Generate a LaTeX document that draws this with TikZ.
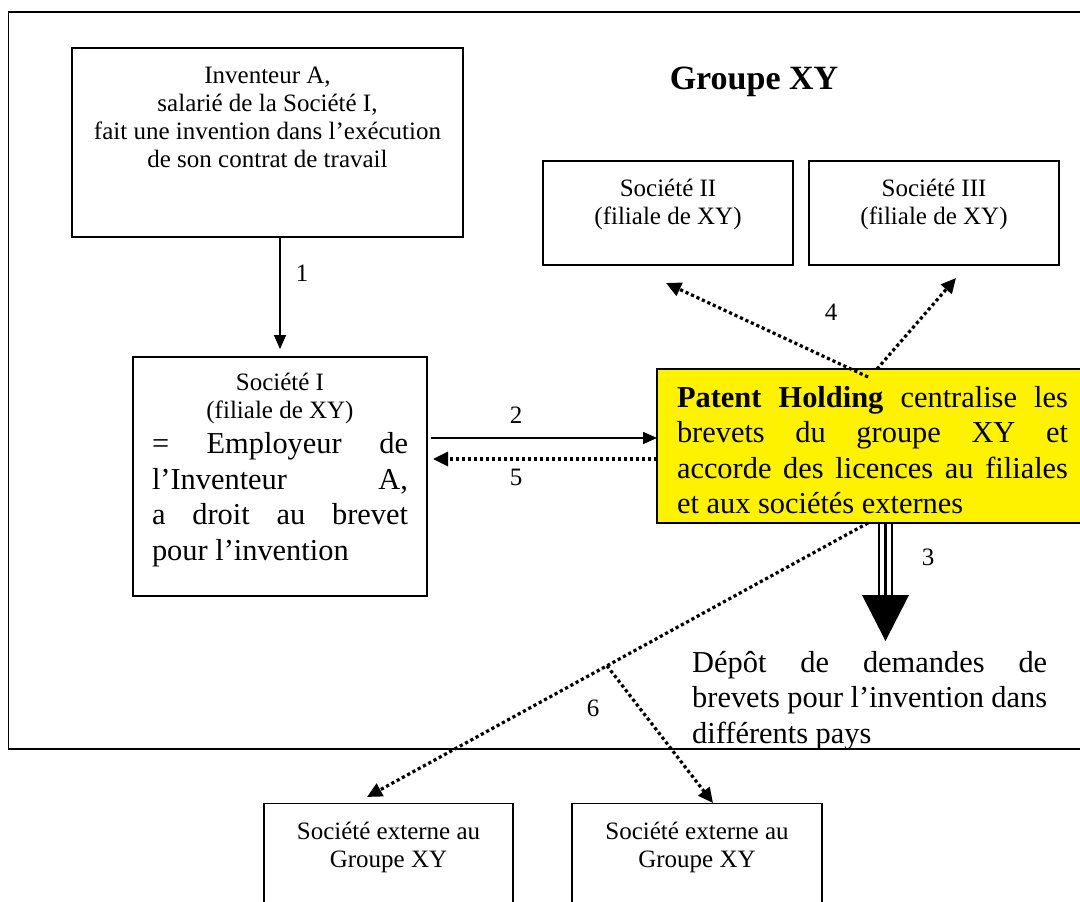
\documentclass[tikz,border=0pt]{standalone}
\usepackage{fontspec}
\setmainfont{Liberation Serif}
\usetikzlibrary{arrows.meta,calc}
\newcommand{\fsm}{\fontsize{25pt}{28.3pt}\selectfont}
\newcommand{\flg}{\fontsize{30.4pt}{35.5pt}\selectfont}
\newcommand{\fttl}{\fontsize{34pt}{40pt}\selectfont}
\newcommand{\fixbox}[3]{\begin{minipage}[c][#2][t]{#1}#3\end{minipage}}
\hbadness=10000 \vbadness=10000 \hfuzz=20pt \vfuzz=20pt
\tikzset{
  boxst/.style={draw=black, line width=1.6pt, inner sep=0pt, outer sep=0pt, anchor=north west, fill=white},
  phst/.style={boxst, fill=yellow},
  lbl/.style={inner sep=0pt, font=\fsm},
  solidarr/.style={line width=1.5pt, -{Triangle[length=14pt,width=12pt]}},
  dotarr/.style={line width=3.2pt, dash pattern=on 3.2pt off 2.8pt, -{Triangle[length=15pt,width=14pt]}},
  tripleln/.style={line width=2.2pt}
}
\begin{document}
\begin{tikzpicture}[x=1pt,y=-1pt]
\path[use as bounding box] (0,0) rectangle (1080,902);
\clip (0,0) rectangle (1080,902);
\fill[white] (0,0) rectangle (1080,902);

% group frame
\node[draw=black, line width=1.6pt, inner sep=0pt, outer sep=0pt, anchor=north west,
      minimum width=1090pt, minimum height=737pt] (grp) at (8.5,12) {};

% title
\node[inner sep=0pt] (ttl) at (754,82) {\fttl\textbf{Groupe XY}};

% boxes
\node[boxst] (inv) at (72,48) {\fixbox{391pt}{189pt}{\vspace*{15.2pt}\fsm\centering\leavevmode\strut Inventeur A,\\ salarié de la Société I,\\ fait une invention dans l’exécution\\ de son contrat de travail\par}};

\node[boxst] (s2) at (543,161) {\fixbox{250pt}{104pt}{\vspace*{15.2pt}\fsm\centering\leavevmode\strut Société II\\ (filiale de XY)\par}};

\node[boxst] (s3) at (809,161) {\fixbox{250pt}{104pt}{\vspace*{15.2pt}\fsm\centering\leavevmode\strut Société III\\ (filiale de XY)\par}};

\node[boxst] (s1) at (133,357) {\fixbox{294pt}{239pt}{\vspace*{13.2pt}{\fsm\centering\leavevmode\strut Société I\\ (filiale de XY)\par}{\flg\leftskip=19pt\rightskip=19pt\parfillskip=0pt plus 1fil\relax = Employeur de\linebreak l’Inventeur A,\linebreak a droit au brevet\linebreak pour l’invention\par}}};

\node[phst] (ph) at (657,369) {\fixbox{431pt}{154pt}{\vspace*{13.15pt}{\flg\leftskip=20pt\rightskip=20pt\parfillskip=0pt plus 1fil\relax\leavevmode\strut\textbf{Patent Holding} centralise les\linebreak brevets du groupe XY et\linebreak accorde des licences au filiales\linebreak et aux sociétés externes\par}}};

\node[inner sep=0pt, anchor=north west] (dep) at (692,647.15) {\begin{minipage}[t]{355pt}\flg\leavevmode\strut Dépôt de demandes de\linebreak brevets pour l’invention dans\linebreak différents pays\end{minipage}};

\node[boxst] (e1) at (264,803.5) {\fixbox{249pt}{150pt}{\vspace*{15.7pt}\fsm\centering\leavevmode\strut Société externe au\\ Groupe XY\par}};

\node[boxst] (e2) at (572,803.5) {\fixbox{250pt}{150pt}{\vspace*{15.7pt}\fsm\centering\leavevmode\strut Société externe au\\ Groupe XY\par}};

% helper coordinates
\coordinate (y2) at (0,438);
\coordinate (y5) at (0,459);
\coordinate (p4a) at (868,377);
\coordinate (p4b) at (877,369);
\coordinate (t4a) at (666,283);
\coordinate (t4b) at (956,278);
\coordinate (a3tip) at (885.5,641);
\coordinate (a3base) at (885.5,595);
\coordinate (p6) at (868,523);
\coordinate (t6a) at (367,797);
\coordinate (t6b) at (713,803);
\coordinate (b6) at ($(p6)!0.521!(t6a)$);

% arrow 1
\draw[solidarr, shorten >=8pt] (inv.south -| s1.north) -- (s1.north);
% arrow 2
\draw[solidarr, shorten <=4pt] (s1.east |- y2) -- (ph.west |- y2);
% arrow 5
\draw[dotarr, shorten >=6pt] (ph.west |- y5) -- (s1.east |- y5);
% arrows 4
\draw[dotarr] (p4a) -- (t4a);
\draw[dotarr] (p4b) -- (t4b);
% arrow 3 (triple shaft + big head)
\draw[tripleln] ([xshift=-6.5pt]ph.south -| a3tip) -- ([xshift=-6.5pt]a3base);
\draw[tripleln] (ph.south -| a3tip) -- (a3base);
\draw[tripleln] ([xshift=6.5pt]ph.south -| a3tip) -- ([xshift=6.5pt]a3base);
\fill[black] (a3tip) -- ([xshift=-23.5pt]a3base) -- ([xshift=23.5pt]a3base) -- cycle;
% arrows 6
\draw[dotarr] (p6) -- (t6a);
\draw[dotarr] (b6) -- (t6b);

% labels
\node[lbl] (l1) at (302,273) {1};
\node[lbl] (l2) at (516,415) {2};
\node[lbl] (l5) at (516,477) {5};
\node[lbl] (l4) at (831,312) {4};
\node[lbl] (l3) at (928,557) {3};
\node[lbl] (l6) at (593,708) {6};
\end{tikzpicture}
\end{document}
